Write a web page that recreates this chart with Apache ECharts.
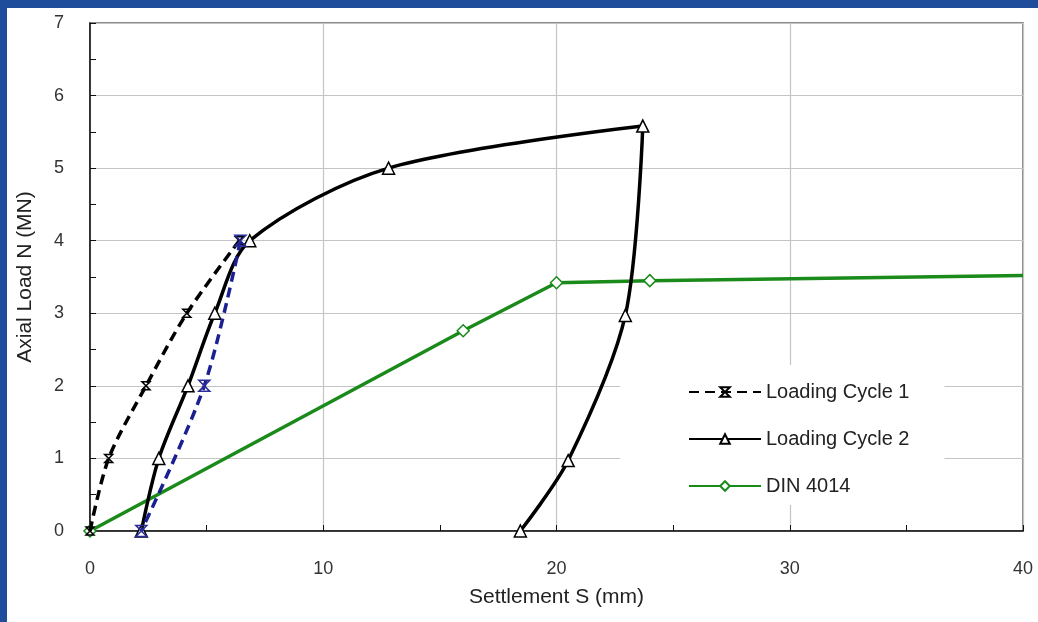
<!DOCTYPE html>
<html>
<head>
<meta charset="utf-8">
<script src="https://cdn.jsdelivr.net/npm/echarts@6/dist/echarts.min.js"></script>
<style>
  html, body { margin: 0; padding: 0; background: #1f4d9c; }
  #main { position: absolute; left: 7px; top: 8px; width: 1031px; height: 614px; background: #fff; }
</style>
</head>
<body>
<div id="main"></div>
<script>
// settlement (mm), load (MN)
const cycle1 = [[0, 0], [0.8, 1], [2.4, 2], [4.15, 3], [6.4, 4]];
const unload1 = [[6.45, 4], [4.9, 2], [2.2, 0]];
const cycle2 = [[2.2, 0], [2.95, 1], [4.2, 2], [5.35, 3], [6.85, 4], [12.8, 5], [23.7, 5.58], [22.95, 2.97], [20.5, 0.97], [18.45, 0]];
const din4014 = [[0, 0], [16, 2.76], [20, 3.42], [24, 3.45], [40, 3.52]];
const legendNames = ['Loading Cycle 1', 'Loading Cycle 2', 'DIN 4014'];

const xMark = 'path://M0,0L10,0L0,10L10,10Z';
const font = 'Liberation Sans, Arial, sans-serif';

const myChart = echarts.init(document.getElementById('main'));
const option = {
  backgroundColor: '#fff',
  animation: false,
  grid: {
    left: 81,
    right: 15,
    top: 15,
    bottom: 91,
    show: true,
    borderColor: '#666',
    borderWidth: 1.5,
  },
  legend: {
    data: legendNames,
    orient: 'vertical',
    left: 613,
    top: 357,
    itemWidth: 72,
    itemHeight: 12,
    itemGap: 27,
    padding: [17, 35, 9, 68],
    backgroundColor: '#fff',
    textStyle: { fontFamily: font, fontSize: 20, color: '#222', lineHeight: 20 },
  },
  xAxis: {
    type: 'value',
    min: 0,
    max: 40,
    interval: 10,
    name: 'Settlement S (mm)',
    nameLocation: 'middle',
    nameGap: 56,
    nameTextStyle: { fontFamily: font, fontSize: 21, color: '#222' },
    axisLine: { show: true, lineStyle: { color: '#111', width: 1.5 } },
    axisTick: { show: true, inside: true, length: 6, lineStyle: { color: '#111' } },
    minorTick: { show: true, splitNumber: 2, length: 6, lineStyle: { color: '#111' } },
    axisLabel: { fontFamily: font, fontSize: 18, color: '#333', margin: 29 },
    splitLine: { show: true, lineStyle: { color: '#c4c4c4', width: 1.2 } },
  },
  yAxis: {
    type: 'value',
    min: 0,
    max: 7,
    interval: 1,
    name: 'Axial Load N (MN)',
    nameLocation: 'middle',
    nameGap: 54,
    nameTextStyle: { fontFamily: font, fontSize: 21, color: '#222' },
    axisLine: { show: true, lineStyle: { color: '#111', width: 1.5 } },
    axisTick: { show: true, inside: true, length: 6, lineStyle: { color: '#111' } },
    minorTick: { show: true, splitNumber: 2, length: 6, lineStyle: { color: '#111' } },
    axisLabel: { fontFamily: font, fontSize: 18, color: '#333', margin: 26 },
    splitLine: { show: true, lineStyle: { color: '#c4c4c4', width: 1.2 } },
  },
  series: [
    {
      name: 'Loading Cycle 1',
      type: 'line',
      data: cycle1,
      smooth: 0.3,
      symbol: xMark,
      symbolSize: 8,
      showAllSymbol: true,
      lineStyle: { color: '#000', width: 3.5, type: [10, 6] },
      itemStyle: { color: 'none', borderColor: '#000', borderWidth: 1.5 },
      z: 3,
    },
    {
      name: 'Unloading Cycle 1',
      type: 'line',
      data: unload1,
      smooth: 0.3,
      symbol: xMark,
      symbolSize: 11,
      lineStyle: { color: '#1c1f8f', width: 3.5, type: [10, 6] },
      itemStyle: { color: 'none', borderColor: '#2a2c9a', borderWidth: 1.5 },
      z: 4,
    },
    {
      name: 'Loading Cycle 2',
      type: 'line',
      data: cycle2,
      smooth: 0.3,
      symbol: 'triangle',
      symbolSize: 12,
      lineStyle: { color: '#000', width: 3.5 },
      itemStyle: { color: '#fff', borderColor: '#000', borderWidth: 1.5 },
      z: 3,
    },
    {
      name: 'DIN 4014',
      type: 'line',
      data: din4014.map((p, i) => (i === din4014.length - 1 ? { value: p, symbol: 'none' } : p)),
      symbol: 'diamond',
      symbolSize: 12,
      lineStyle: { color: '#1a8a1a', width: 3.5 },
      itemStyle: { color: '#fff', borderColor: '#1a8a1a', borderWidth: 1.5 },
      z: 2,
    },
  ],
};
myChart.setOption(option);
</script>
</body>
</html>
